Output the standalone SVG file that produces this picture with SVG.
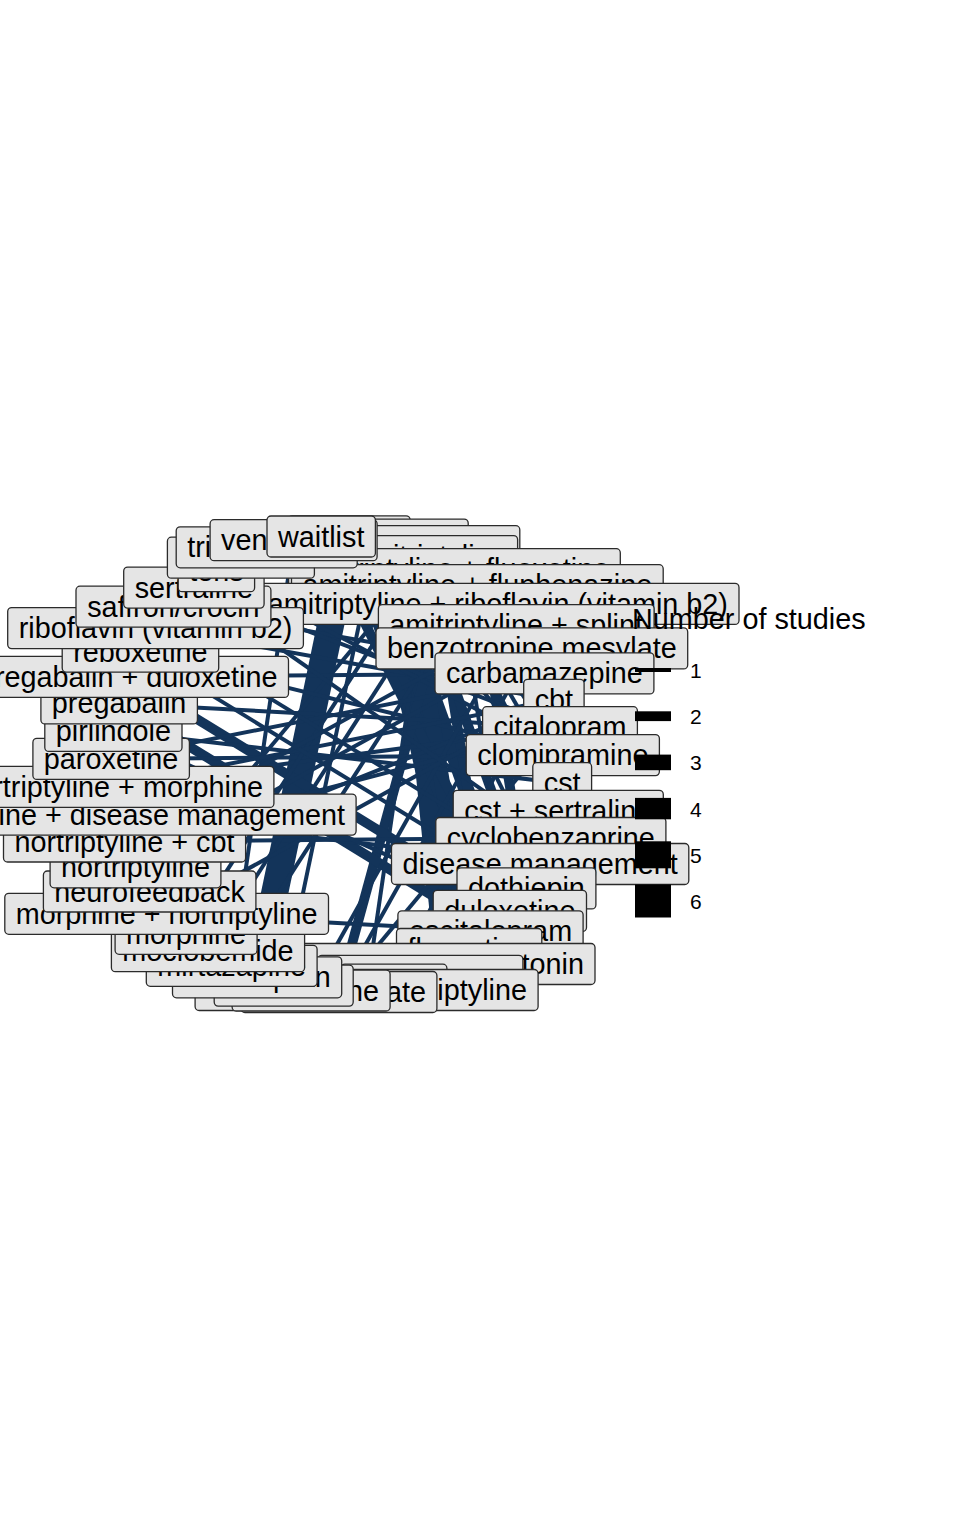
<svg xmlns="http://www.w3.org/2000/svg" width="960" height="1536" viewBox="0 0 960 1536">
<style>
.e{stroke:#13345A;fill:none;stroke-linecap:butt}
.w1{stroke-width:4}.w2{stroke-width:9.8}.w3{stroke-width:15.6}.w4{stroke-width:21.4}.w5{stroke-width:27}.w6{stroke-width:33}
.b{fill:#E5E5E5;stroke:#2b2b2b;stroke-width:1.3}
.t{font-family:"Liberation Sans",Arial,Helvetica,sans-serif;font-size:28.8px;fill:#000}
.m{text-anchor:middle}.r{text-anchor:end}
.lg{font-family:"Liberation Sans",Arial,Helvetica,sans-serif;fill:#000}
</style>
<rect width="960" height="1536" fill="#fff"/>
<g id="edges">
<line class="e w5" x1="349.1" y1="536.3" x2="257.1" y2="977.3"/>
<line class="e w5" x1="376.7" y1="539.6" x2="469.1" y2="949.0"/>
<line class="e w4" x1="403.8" y1="546.2" x2="445.5" y2="964.0"/>
<line class="e w3" x1="349.1" y1="536.3" x2="490.5" y2="931.3"/>
<line class="e w3" x1="376.7" y1="539.6" x2="509.8" y2="910.9"/>
<line class="e w3" x1="403.8" y1="546.2" x2="469.1" y2="949.0"/>
<line class="e w2" x1="429.8" y1="556.1" x2="490.5" y2="931.3"/>
<line class="e w2" x1="321.2" y1="536.5" x2="509.8" y2="910.9"/>
<line class="e w2" x1="454.4" y1="569.2" x2="338.9" y2="992.0"/>
<line class="e w1" x1="429.8" y1="556.1" x2="366.6" y2="990.0"/>
<line class="e w1" x1="376.7" y1="539.6" x2="283.7" y2="985.6"/>
<line class="e w1" x1="293.6" y1="540.2" x2="231.7" y2="965.8"/>
<line class="e w1" x1="376.7" y1="539.6" x2="540.1" y2="864.0"/>
<line class="e w1" x1="429.8" y1="556.1" x2="562.2" y2="783.2"/>
<line class="e w1" x1="429.8" y1="556.1" x2="560.0" y2="727.2"/>
<line class="e w1" x1="429.8" y1="556.1" x2="553.9" y2="699.8"/>
<line class="e w1" x1="429.8" y1="556.1" x2="562.8" y2="755.1"/>
<line class="e w1" x1="429.8" y1="556.1" x2="558.2" y2="810.9"/>
<line class="e w2" x1="477.3" y1="585.2" x2="526.4" y2="888.4"/>
<line class="e w2" x1="403.8" y1="546.2" x2="526.4" y2="888.4"/>
<line class="e w2" x1="497.9" y1="603.9" x2="562.2" y2="783.2"/>
<line class="e w1" x1="516.2" y1="625.1" x2="558.2" y2="810.9"/>
<line class="e w1" x1="454.4" y1="569.2" x2="509.8" y2="910.9"/>
<line class="e w2" x1="128.2" y1="676.9" x2="509.8" y2="910.9"/>
<line class="e w2" x1="119.1" y1="703.4" x2="490.5" y2="931.3"/>
<line class="e w1" x1="113.4" y1="730.9" x2="562.2" y2="783.2"/>
<line class="e w1" x1="111.1" y1="758.9" x2="562.8" y2="755.1"/>
<line class="e w1" x1="112.1" y1="786.9" x2="560.0" y2="727.2"/>
<line class="e w1" x1="116.6" y1="814.6" x2="540.1" y2="864.0"/>
<line class="e w1" x1="124.5" y1="841.5" x2="550.8" y2="838.0"/>
<line class="e w1" x1="135.5" y1="867.3" x2="553.9" y2="699.8"/>
<line class="e w1" x1="166.6" y1="913.8" x2="490.5" y2="931.3"/>
<line class="e w1" x1="149.6" y1="891.5" x2="429.8" y2="556.1"/>
<line class="e w1" x1="140.4" y1="651.6" x2="562.8" y2="755.1"/>
<line class="e w1" x1="155.5" y1="628.1" x2="429.8" y2="556.1"/>
<line class="e w1" x1="173.4" y1="606.7" x2="544.4" y2="673.4"/>
<line class="e w1" x1="128.2" y1="676.9" x2="544.4" y2="673.4"/>
<line class="e w1" x1="119.1" y1="703.4" x2="560.0" y2="727.2"/>
<line class="e w1" x1="231.7" y1="965.8" x2="477.3" y2="585.2"/>
<line class="e w1" x1="208.0" y1="951.2" x2="454.4" y2="569.2"/>
<line class="e w1" x1="186.1" y1="933.8" x2="429.8" y2="556.1"/>
<line class="e w1" x1="113.4" y1="730.9" x2="509.8" y2="910.9"/>
<line class="e w1" x1="531.8" y1="648.4" x2="338.9" y2="992.0"/>
<line class="e w1" x1="544.4" y1="673.4" x2="393.9" y2="984.7"/>
<line class="e w1" x1="516.2" y1="625.1" x2="311.1" y2="990.5"/>
<line class="e w1" x1="560.0" y1="727.2" x2="338.9" y2="992.0"/>
<line class="e w1" x1="155.5" y1="628.1" x2="553.9" y2="699.8"/>
<line class="e w1" x1="193.9" y1="587.6" x2="560.0" y2="727.2"/>
<line class="e w1" x1="112.1" y1="786.9" x2="553.9" y2="699.8"/>
<line class="e w1" x1="124.5" y1="841.5" x2="560.0" y2="727.2"/>
<line class="e w1" x1="166.6" y1="913.8" x2="553.9" y2="699.8"/>
<line class="e w1" x1="111.1" y1="758.9" x2="544.4" y2="673.4"/>
<line class="e w1" x1="216.4" y1="571.2" x2="562.8" y2="755.1"/>
<line class="e w1" x1="155.5" y1="628.1" x2="540.1" y2="864.0"/>
<line class="e w1" x1="193.9" y1="587.6" x2="550.8" y2="838.0"/>
<line class="e w1" x1="140.4" y1="651.6" x2="526.4" y2="888.4"/>
<line class="e w1" x1="135.5" y1="867.3" x2="531.8" y2="648.4"/>
<line class="e w1" x1="124.5" y1="841.5" x2="516.2" y2="625.1"/>
<line class="e w1" x1="321.2" y1="536.5" x2="553.9" y2="699.8"/>
<line class="e w1" x1="349.1" y1="536.3" x2="562.2" y2="783.2"/>
<line class="e w1" x1="376.7" y1="539.6" x2="560.0" y2="727.2"/>
</g>
<g id="nodes">
<g id="n01"><rect class="b" x="288.1" y="515.8" width="122" height="41" rx="4"/></g>
<g id="n02"><rect class="b" x="285.2" y="519.1" width="183" height="41" rx="4"/></g>
<g id="n03"><rect class="b" x="287.8" y="525.7" width="232" height="41" rx="4"/></g>
<g id="n04"><rect class="b" x="342.0" y="535.6" width="175.6" height="41" rx="4"/><text class="t m" x="429.8" y="566.1">amitriptyline</text></g>
<g id="n05"><rect class="b" x="288.6" y="548.7" width="331.7" height="41" rx="4"/><text class="t m" x="454.4" y="579.2">amitriptyline + fluoxetine</text></g>
<g id="n06"><rect class="b" x="291.5" y="564.7" width="371.7" height="41" rx="4"/><text class="t m" x="477.3" y="595.2">amitriptyline + fluphenazine</text></g>
<g id="n07"><rect class="b" x="256.9" y="583.4" width="482.1" height="41" rx="4"/><text class="t m" x="497.9" y="613.9">amitriptyline + riboflavin (vitamin b2)</text></g>
<g id="n08"><rect class="b" x="378.4" y="604.6" width="275.7" height="41" rx="4"/><text class="t m" x="516.2" y="635.1">amitriptyline + splint</text></g>
<g id="n09"><rect class="b" x="376.0" y="627.9" width="311.7" height="41" rx="4"/><text class="t m" x="531.8" y="658.4">benzotropine mesylate</text></g>
<g id="n10"><rect class="b" x="435.0" y="652.9" width="218.9" height="41" rx="4"/><text class="t m" x="544.4" y="683.4">carbamazepine</text></g>
<g id="n11"><rect class="b" x="523.7" y="679.3" width="60.4" height="41" rx="4"/><text class="t m" x="553.9" y="709.8">cbt</text></g>
<g id="n12"><rect class="b" x="482.6" y="706.7" width="154.8" height="41" rx="4"/><text class="t m" x="560.0" y="737.2">citalopram</text></g>
<g id="n13"><rect class="b" x="466.2" y="734.6" width="193.2" height="41" rx="4"/><text class="t m" x="562.8" y="765.1">clomipramine</text></g>
<g id="n14"><rect class="b" x="532.8" y="762.7" width="58.8" height="41" rx="4"/><text class="t m" x="562.2" y="793.2">cst</text></g>
<g id="n15"><rect class="b" x="453.2" y="790.4" width="210.1" height="41" rx="4"/><text class="t m" x="558.2" y="820.9">cst + sertraline</text></g>
<g id="n16"><rect class="b" x="435.8" y="817.5" width="230.1" height="41" rx="4"/><text class="t m" x="550.8" y="848.0">cyclobenzaprine</text></g>
<g id="n17"><rect class="b" x="391.5" y="843.5" width="297.3" height="41" rx="4"/><text class="t m" x="540.1" y="874.0">disease management</text></g>
<g id="n18"><rect class="b" x="457.0" y="867.9" width="138.9" height="41" rx="4"/><text class="t m" x="526.4" y="898.4">dothiepin</text></g>
<g id="n19"><rect class="b" x="433.2" y="890.4" width="153.3" height="41" rx="4"/><text class="t m" x="509.8" y="920.9">duloxetine</text></g>
<g id="n20"><rect class="b" x="397.9" y="910.8" width="185.2" height="41" rx="4"/><text class="t m" x="490.5" y="941.3">escitalopram</text></g>
<g id="n21"><rect class="b" x="396.5" y="928.5" width="145.3" height="41" rx="4"/><text class="t m" x="469.1" y="959.0">fluoxetine</text></g>
<g id="n22"><rect class="b" x="296.0" y="943.5" width="299" height="41" rx="4"/><text class="t r" x="584" y="974.0">tonin</text></g>
<g id="n23"><rect class="b" x="317.9" y="955.4" width="205" height="41" rx="4"/></g>
<g id="n24"><rect class="b" x="340.9" y="964.2" width="106" height="41" rx="4"/></g>
<g id="n25"><rect class="b" x="195.1" y="969.5" width="343" height="41" rx="4"/><text class="t r" x="527" y="1000.0">iptyline</text></g>
<g id="n26"><rect class="b" x="240.9" y="971.5" width="196" height="41" rx="4"/><text class="t r" x="426" y="1002.0">ate</text></g>
<g id="n27"><rect class="b" x="232.1" y="970.0" width="158" height="41" rx="4"/><text class="t r" x="379" y="1000.5">ne</text></g>
<g id="n28"><rect class="b" x="214.2" y="965.1" width="139" height="41" rx="4"/></g>
<g id="n29"><rect class="b" x="172.5" y="956.8" width="169.2" height="41" rx="4"/><text class="t m" x="257.1" y="987.3">milnacipran</text></g>
<g id="n30"><rect class="b" x="146.3" y="945.3" width="170.8" height="41" rx="4"/><text class="t m" x="231.7" y="975.8">mirtazapine</text></g>
<g id="n31"><rect class="b" x="111.4" y="930.7" width="193.2" height="41" rx="4"/><text class="t m" x="208.0" y="961.2">moclobemide</text></g>
<g id="n32"><rect class="b" x="115.1" y="913.3" width="142" height="41" rx="4"/><text class="t m" x="186.1" y="943.8">morphine</text></g>
<g id="n33"><rect class="b" x="4.8" y="893.3" width="323.7" height="41" rx="4"/><text class="t m" x="166.6" y="923.8">morphine + nortriptyline</text></g>
<g id="n34"><rect class="b" x="43.4" y="871.0" width="212.5" height="41" rx="4"/><text class="t m" x="149.6" y="901.5">neurofeedback</text></g>
<g id="n35"><rect class="b" x="50.1" y="846.8" width="170.8" height="41" rx="4"/><text class="t m" x="135.5" y="877.3">nortriptyline</text></g>
<g id="n36"><rect class="b" x="3.5" y="821.0" width="242.1" height="41" rx="4"/><text class="t m" x="124.5" y="851.5">nortriptyline + cbt</text></g>
<g id="n37"><rect class="b" x="-122.9" y="794.1" width="479" height="41" rx="4"/><text class="t m" x="116.6" y="824.6">nortriptyline + disease management</text></g>
<g id="n38"><rect class="b" x="-49.8" y="766.4" width="323.7" height="41" rx="4"/><text class="t m" x="112.1" y="796.9">nortriptyline + morphine</text></g>
<g id="n39"><rect class="b" x="32.9" y="738.4" width="156.5" height="41" rx="4"/><text class="t m" x="111.1" y="768.9">paroxetine</text></g>
<g id="n40"><rect class="b" x="44.8" y="710.4" width="137.2" height="41" rx="4"/><text class="t m" x="113.4" y="740.9">pirlindole</text></g>
<g id="n41"><rect class="b" x="40.9" y="682.9" width="156.5" height="41" rx="4"/><text class="t m" x="119.1" y="713.4">pregabalin</text></g>
<g id="n42"><rect class="b" x="-32.1" y="656.4" width="320.6" height="41" rx="4"/><text class="t m" x="128.2" y="686.9">pregabalin + duloxetine</text></g>
<g id="n43"><rect class="b" x="62.2" y="631.1" width="156.5" height="41" rx="4"/><text class="t m" x="140.4" y="661.6">reboxetine</text></g>
<g id="n44"><rect class="b" x="7.7" y="607.6" width="295.7" height="41" rx="4"/><text class="t m" x="155.5" y="638.1">riboflavin (vitamin b2)</text></g>
<g id="n45"><rect class="b" x="76.0" y="586.2" width="194.9" height="41" rx="4"/><text class="t m" x="173.4" y="616.7">saffron/crocin</text></g>
<g id="n46"><rect class="b" x="123.7" y="567.1" width="140.4" height="41" rx="4"/><text class="t m" x="193.9" y="597.6">sertraline</text></g>
<g id="n47"><rect class="b" x="178.2" y="550.7" width="76.4" height="41" rx="4"/><text class="t m" x="216.4" y="581.2">tens</text></g>
<g id="n48"><rect class="b" x="167.4" y="537.2" width="147" height="41" rx="4"/></g>
<g id="n49"><rect class="b" x="176.2" y="526.8" width="181" height="41" rx="4"/><text class="t" x="187.2" y="557.3">tri</text></g>
<g id="n50"><rect class="b" x="210.1" y="519.7" width="167" height="41" rx="4"/><text class="t" x="221.1" y="550.2">ven</text></g>
<g id="n51"><rect class="b" x="267.0" y="516.0" width="108.4" height="41" rx="4"/><text class="t m" x="321.2" y="546.5">waitlist</text></g>
</g>
<g id="legend">
<text class="lg" x="632" y="629" font-size="28.8">Number of studies</text>
<rect x="635" y="668" width="36" height="4" fill="#000"/>
<rect x="635" y="711.3" width="36" height="9.8" fill="#000"/>
<rect x="635" y="754.6" width="36" height="15.6" fill="#000"/>
<rect x="635" y="797.9" width="36" height="21.4" fill="#000"/>
<rect x="635" y="841.3" width="36" height="27" fill="#000"/>
<rect x="635" y="884.5" width="36" height="33" fill="#000"/>
<text class="lg" x="690" y="678" font-size="21">1</text>
<text class="lg" x="690" y="724.2" font-size="21">2</text>
<text class="lg" x="690" y="770.4" font-size="21">3</text>
<text class="lg" x="690" y="816.6" font-size="21">4</text>
<text class="lg" x="690" y="862.8" font-size="21">5</text>
<text class="lg" x="690" y="909" font-size="21">6</text>
</g>
</svg>
